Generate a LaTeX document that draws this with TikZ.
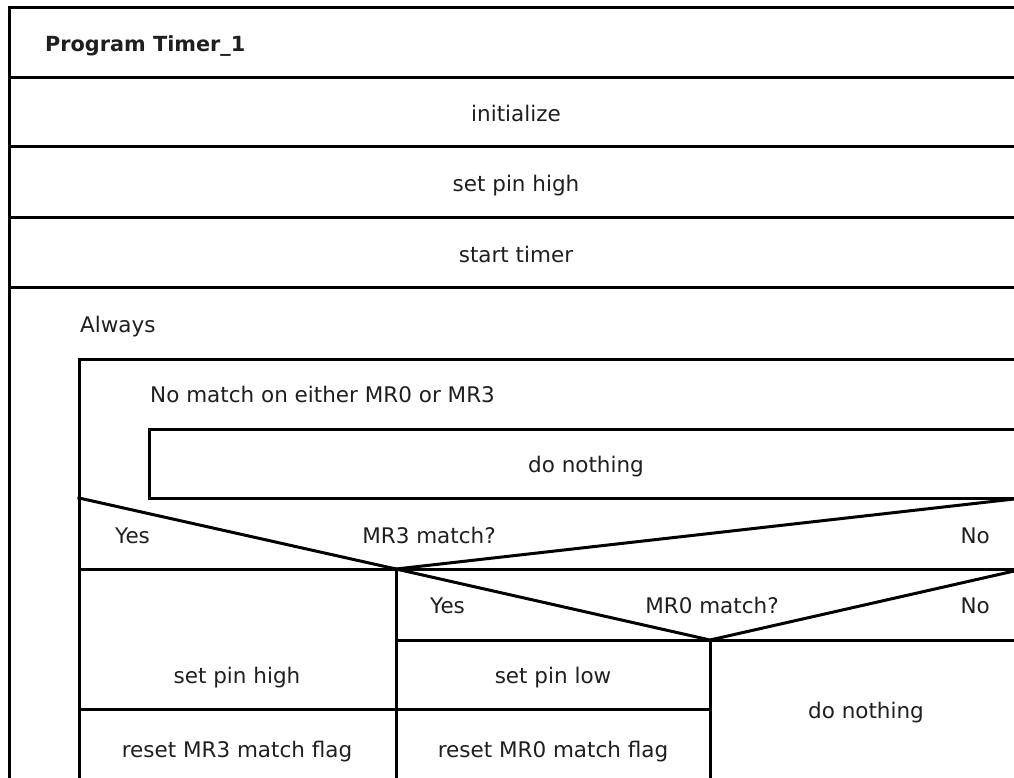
\documentclass[tikz,border=0pt]{standalone}
\usepackage{fontspec}
\setmainfont{DejaVu Sans}
\usepackage{tikz}
\usetikzlibrary{positioning}

\begin{document}
\begin{tikzpicture}[x=1pt,y=-1pt,
  nsline/.style={line width=3pt,line cap=rect},
  lbl/.style={font=\fontsize{21.5}{25}\selectfont,text=black!88,inner sep=0pt},
  ttl/.style={lbl,font=\fontsize{20.8}{25}\selectfont\bfseries}]
\useasboundingbox (0,0) rectangle (1014,778);
\draw[nsline] (9,8) rectangle (1023,790);
\draw[nsline] (9,78) -- (1023,78);
\draw[nsline] (9,147) -- (1023,147);
\draw[nsline] (9,217) -- (1023,217);
\draw[nsline] (9,287) -- (1023,287);
\draw[nsline] (79,359) rectangle (1023,790);
\draw[nsline] (149,429) rectangle (1023,498);
\draw[nsline] (79,498) -- (396,569) -- (1023,498);
\draw[nsline] (79,569) -- (1023,569);
\draw[nsline] (396,569) -- (396,790);
\draw[nsline] (396,569) -- (710,640) -- (1023,569);
\draw[nsline] (396,640) -- (1023,640);
\draw[nsline] (710,640) -- (710,790);
\draw[nsline] (79,709) -- (710,709);
\node[ttl,anchor=base west] (title) at (45,52) {Program Timer\_1};
\node[lbl,anchor=base] (init) at (516,122) {initialize};
\node[lbl,anchor=base] (pinhigh) at (516,192) {set pin high};
\node[lbl,anchor=base] (start) at (516,262) {start timer};
\node[lbl,anchor=base west] (always) at (80,332) {Always};
\node[lbl,anchor=base west] (nomatch) at (150,402) {No match on either MR0 or MR3};
\node[lbl,anchor=base] (idle) at (586,472) {do nothing};
\node[lbl,anchor=base west] (yesthree) at (115,543) {Yes};
\node[lbl,anchor=base] (mrthree) at (429,543) {MR3 match?};
\node[lbl,anchor=base east] (nothree) at (990,543) {No};
\node[lbl,anchor=base west] (yeszero) at (430,613) {Yes};
\node[lbl,anchor=base] (mrzero) at (712,613) {MR0 match?};
\node[lbl,anchor=base east] (nozero) at (990,613) {No};
\node[lbl,anchor=base] (sethigh) at (237,683) {set pin high};
\node[lbl,anchor=base] (resetthree) at (237,757) {reset MR3 match flag};
\node[lbl,anchor=base] (setlow) at (553,683) {set pin low};
\node[lbl,anchor=base] (resetzero) at (553,757) {reset MR0 match flag};
\node[lbl,anchor=base] (skip) at (866,718) {do nothing};
\end{tikzpicture}
\end{document}
